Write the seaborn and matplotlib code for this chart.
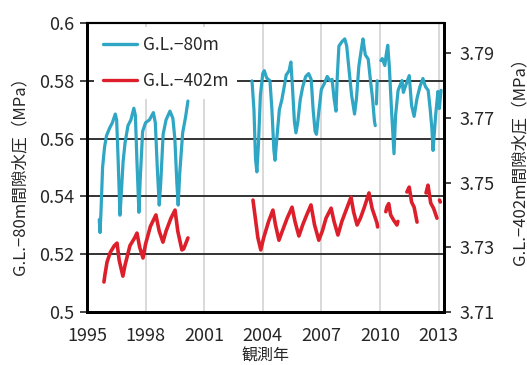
import numpy as np
import pandas as pd
import matplotlib.pyplot as plt
import seaborn as sns
from matplotlib.lines import Line2D

# G.L.-80m 間隙水圧 (MPa) - 左軸, 区間ごと
gl80_year = [
    1995.63, 1995.67, 1995.72, 1995.80, 1995.90, 1996.00, 1996.15, 1996.30, 1996.45, 1996.52,
    1996.60, 1996.69, 1996.75, 1996.85, 1996.95, 1997.10, 1997.25, 1997.40, 1997.48, 1997.56,
    1997.66, 1997.72, 1997.85, 1998.00, 1998.20, 1998.40, 1998.50, 1998.60, 1998.70, 1998.78,
    1998.90, 1999.05, 1999.25, 1999.40, 1999.50, 1999.60, 1999.67, 1999.75, 1999.90, 2000.05,
    2000.17,
    2003.45, 2003.55, 2003.63, 2003.70, 2003.78, 2003.88, 2004.00, 2004.08, 2004.20, 2004.37,
    2004.47, 2004.57, 2004.63, 2004.72, 2004.85, 2004.98, 2005.10, 2005.20, 2005.35, 2005.44,
    2005.52, 2005.62, 2005.70, 2005.80, 2005.92, 2006.05, 2006.20, 2006.35, 2006.48, 2006.58,
    2006.68, 2006.75, 2006.85, 2007.00, 2007.15, 2007.30, 2007.45, 2007.55, 2007.65, 2007.75,
    2007.82, 2007.90, 2008.05, 2008.20, 2008.30, 2008.40, 2008.55, 2008.70, 2008.80, 2008.92,
    2009.05, 2009.13, 2009.25, 2009.40, 2009.50, 2009.62, 2009.72, 2009.76,
    2009.82, 2009.86,
    2010.05, 2010.12, 2010.25, 2010.32, 2010.40, 2010.48, 2010.60, 2010.72, 2010.80, 2010.93,
    2011.13, 2011.20, 2011.35, 2011.50, 2011.62, 2011.75, 2011.90, 2012.05, 2012.20, 2012.33,
    2012.47, 2012.57, 2012.66, 2012.72, 2012.85, 2012.97, 2013.04, 2013.13,
]
gl80_val = [
    0.5320, 0.5275, 0.5350, 0.5500, 0.5570, 0.5610, 0.5635, 0.5655, 0.5685, 0.5665,
    0.5520, 0.5335, 0.5400, 0.5520, 0.5585, 0.5645, 0.5665, 0.5705, 0.5680, 0.5520,
    0.5345, 0.5450, 0.5625, 0.5655, 0.5665, 0.5690, 0.5655, 0.5500, 0.5370, 0.5450,
    0.5615, 0.5665, 0.5695, 0.5670, 0.5600, 0.5450, 0.5370, 0.5480, 0.5620, 0.5675,
    0.5730,
    0.5800, 0.5700, 0.5530, 0.5485, 0.5580, 0.5750, 0.5825, 0.5835, 0.5810, 0.5800,
    0.5700, 0.5560, 0.5525, 0.5600, 0.5700, 0.5735, 0.5780, 0.5820, 0.5835, 0.5865,
    0.5780, 0.5660, 0.5620, 0.5660, 0.5735, 0.5780, 0.5815, 0.5825, 0.5805, 0.5700,
    0.5625, 0.5615, 0.5680, 0.5770, 0.5790, 0.5815, 0.5800, 0.5805, 0.5740, 0.5695,
    0.5820, 0.5920, 0.5935, 0.5945, 0.5920, 0.5850, 0.5750, 0.5685, 0.5740, 0.5850,
    0.5910, 0.5945, 0.5890, 0.5875, 0.5810, 0.5740, 0.5660, 0.5645,
    0.5720, 0.5800,
    0.5870, 0.5877, 0.5853, 0.5890, 0.5923, 0.5850, 0.5690, 0.5548, 0.5680, 0.5767,
    0.5801, 0.5760, 0.5790, 0.5818, 0.5715, 0.5677, 0.5740, 0.5780, 0.5808, 0.5780,
    0.5767, 0.5704, 0.5635, 0.5559, 0.5680, 0.5763, 0.5704, 0.5767,
]
gl80_seg = [0] * 41 + [1] * 58 + [2] * 2 + [3] * 28

# G.L.-402m 間隙水圧 (MPa) - 右軸, 区間ごと
gl402_year = [
    1995.87, 1995.92, 1996.03, 1996.20, 1996.40, 1996.54, 1996.65, 1996.84, 1996.95, 1997.20,
    1997.45, 1997.56, 1997.70, 1997.87, 1998.00, 1998.25, 1998.53, 1998.70, 1998.89, 1999.05,
    1999.30, 1999.51, 1999.65, 1999.86, 1999.95, 2000.17,
    2003.50, 2003.60, 2003.75, 2003.90, 2004.05, 2004.30, 2004.52, 2004.65, 2004.83, 2005.00,
    2005.25, 2005.50, 2005.65, 2005.85, 2006.05, 2006.25, 2006.47, 2006.65, 2006.87, 2007.05,
    2007.24, 2007.50, 2007.65, 2007.85, 2008.05, 2008.30, 2008.52, 2008.65, 2008.83, 2009.00,
    2009.18, 2009.44, 2009.60, 2009.85, 2009.88,
    2010.30, 2010.36, 2010.45, 2010.55, 2010.70, 2010.87, 2010.92,
    2011.38, 2011.50, 2011.62, 2011.75, 2011.90,
    2012.36, 2012.46, 2012.60, 2012.75, 2012.92,
    2013.05, 2013.09,
]
gl402_val = [
    3.7193, 3.7215, 3.7255, 3.7285, 3.7305, 3.7313, 3.7260, 3.7211, 3.7245, 3.7305,
    3.7330, 3.7344, 3.7300, 3.7267, 3.7310, 3.7365, 3.7400, 3.7350, 3.7316, 3.7350,
    3.7390, 3.7415, 3.7350, 3.7292, 3.7295, 3.7329,
    3.7446, 3.7400, 3.7330, 3.7292, 3.7330, 3.7380, 3.7415, 3.7370, 3.7322, 3.7350,
    3.7390, 3.7424, 3.7380, 3.7335, 3.7370, 3.7400, 3.7431, 3.7370, 3.7322, 3.7350,
    3.7390, 3.7421, 3.7380, 3.7338, 3.7380, 3.7420, 3.7455, 3.7410, 3.7369, 3.7390,
    3.7420, 3.7468, 3.7420, 3.7375, 3.7363,
    3.7410, 3.7425, 3.7435, 3.7400, 3.7384, 3.7369, 3.7380,
    3.7471, 3.7486, 3.7440, 3.7424, 3.7378,
    3.7468, 3.7492, 3.7437, 3.7420, 3.7390,
    3.7446, 3.7440,
]
gl402_seg = [0] * 26 + [1] * 35 + [2] * 7 + [3] * 5 + [4] * 5 + [5] * 2

x_ticks = [1995, 1998, 2001, 2004, 2007, 2010, 2013]
left_ticks = [0.5, 0.52, 0.54, 0.56, 0.58, 0.6]
right_ticks = [3.71, 3.73, 3.75, 3.77, 3.79]

blue = '#2ea6c4'
red = '#dc1f2b'

sns.set_style('white')
plt.rcParams['font.family'] = ['Noto Sans CJK JP', 'DejaVu Sans']

df80 = pd.DataFrame({'year': gl80_year, 'val': gl80_val, 'seg': gl80_seg})
df402 = pd.DataFrame({'year': gl402_year, 'val': gl402_val, 'seg': gl402_seg})

fig = plt.figure(figsize=(5.27, 3.65), dpi=100)
ax = fig.add_axes([0.165, 0.145, 0.6775, 0.792])
ax2 = ax.twinx()

sns.lineplot(data=df80, x='year', y='val', units='seg', estimator=None,
             color=blue, lw=2.3, ax=ax, legend=False)
sns.lineplot(data=df402, x='year', y='val', units='seg', estimator=None,
             color=red, lw=2.6, ax=ax2, legend=False)

ax.set_xlim(1995, 2013.28)
ax.set_ylim(0.5, 0.6)
ax2.set_ylim(3.71, 3.7993)

ax.set_xticks(x_ticks)
ax.set_yticks(left_ticks)
ax.set_yticklabels(['0.5', '0.52', '0.54', '0.56', '0.58', '0.6'])
ax2.set_yticks(right_ticks)

# グリッド
for xv in x_ticks[1:]:
    ax.axvline(xv, color='#d9d9d9', lw=1.4, zorder=0)
for yv in left_ticks[1:-1]:
    ax.axhline(yv, color='#333333', lw=1.4, zorder=0.5)

ax.tick_params(axis='x', length=0, labelsize=13, pad=11)
ax.tick_params(axis='y', length=5, width=1.2, direction='out', labelsize=13, pad=4)
ax2.tick_params(axis='y', length=5, width=1.2, direction='out', labelsize=13, pad=6)

for a in (ax, ax2):
    for side in ['left', 'bottom', 'right']:
        a.spines[side].set_linewidth(2)
        a.spines[side].set_color('black')
    a.spines['top'].set_linewidth(1.5)
    a.spines['top'].set_color('black')

ax.set_xlabel('観測年', fontsize=11.5)
ax.xaxis.set_label_coords(0.5, -0.122)
ax.set_ylabel('G.L.−80m間隙水圧（MPa）', fontsize=12)
ax.yaxis.set_label_coords(-0.163, 0.485)
ax2.set_ylabel('G.L.−402m間隙水圧（MPa）', fontsize=12)
ax2.yaxis.set_label_coords(1.188, 0.535)

handles = [Line2D([], [], color=blue, lw=2.4), Line2D([], [], color=red, lw=2.4)]
leg = ax2.legend(handles, ['G.L.−80m', 'G.L.−402m'], loc='upper left',
                 bbox_to_anchor=(0.01, 0.997),
                 fontsize=12.5, frameon=True, facecolor='white', edgecolor='none',
                 framealpha=1, handlelength=2.0, handletextpad=0.3,
                 labelspacing=1.05, borderpad=0.5, borderaxespad=0.2)

plt.savefig('out.png', dpi=100)
